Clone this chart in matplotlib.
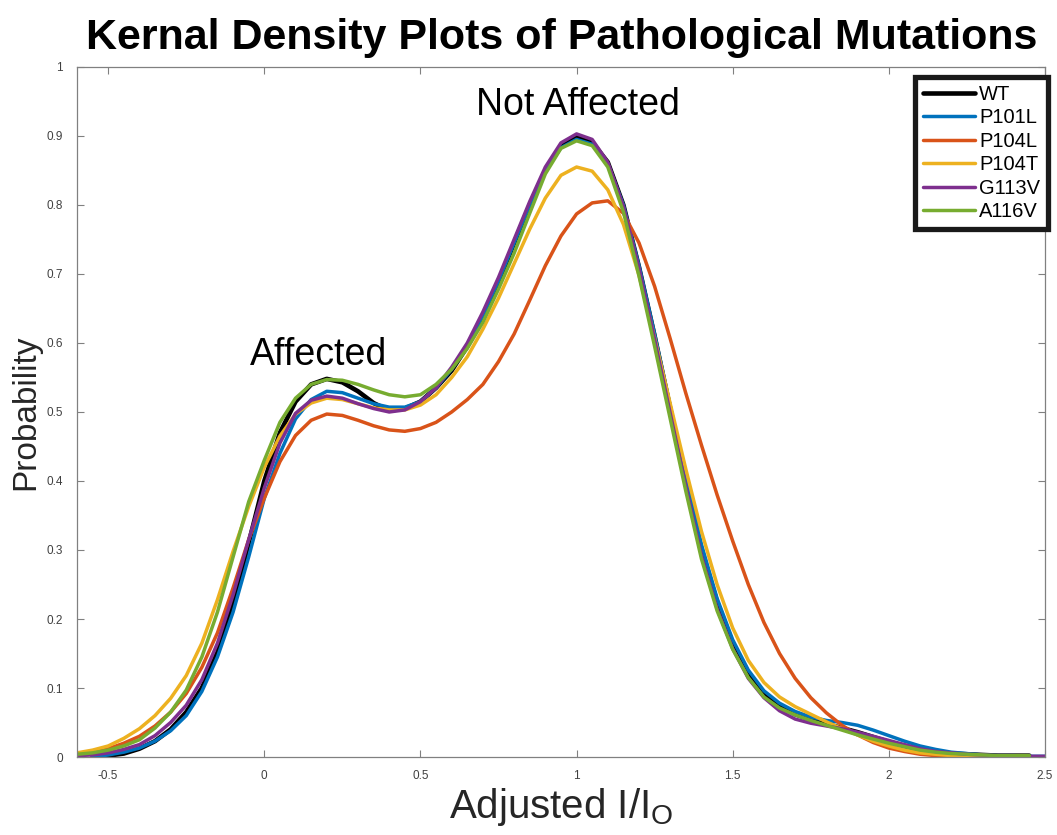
import numpy as np
import matplotlib
matplotlib.use("Agg")
import matplotlib.pyplot as plt

plt.rcParams['font.family'] = ['Liberation Sans', 'DejaVu Sans']
plt.rcParams['mathtext.fontset'] = 'custom'
plt.rcParams['mathtext.rm'] = 'Liberation Sans'

nan = np.nan

# sample positions (Adjusted I/Io), step 0.05 from -0.6 to 2.5
x_vals = [-0.6, -0.55, -0.5, -0.45, -0.4, -0.35, -0.3, -0.25, -0.2, -0.15,
          -0.1, -0.05, 0.0, 0.05, 0.1, 0.15, 0.2, 0.25, 0.3, 0.35,
          0.4, 0.45, 0.5, 0.55, 0.6, 0.65, 0.7, 0.75, 0.8, 0.85,
          0.9, 0.95, 1.0, 1.05, 1.1, 1.15, 1.2, 1.25, 1.3, 1.35,
          1.4, 1.45, 1.5, 1.55, 1.6, 1.65, 1.7, 1.75, 1.8, 1.85,
          1.9, 1.95, 2.0, 2.05, 2.1, 2.15, 2.2, 2.25, 2.3, 2.35,
          2.4, 2.45, 2.5]

wt = [nan, 0.0, 0.002, 0.005, 0.012, 0.023, 0.04, 0.065, 0.10, 0.152,
      0.222, 0.31, 0.40, 0.47, 0.515, 0.54, 0.548, 0.543, 0.53, 0.513,
      0.502, 0.505, 0.515, 0.535, 0.56, 0.595, 0.635, 0.688, 0.745, 0.80,
      0.85, 0.885, 0.898, 0.891, 0.862, 0.80, 0.71, 0.61, 0.505, 0.40,
      0.30, 0.225, 0.165, 0.122, 0.092, 0.074, 0.062, 0.054, 0.048, 0.042,
      0.036, 0.029, 0.022, 0.016, 0.011, 0.008, 0.005, 0.004, 0.003, 0.002,
      0.002, 0.002, nan]
p101l = [nan, 0.0, 0.003, 0.007, 0.013, 0.023, 0.038, 0.06, 0.095, 0.145,
         0.21, 0.29, 0.375, 0.44, 0.49, 0.518, 0.53, 0.528, 0.52, 0.512,
         0.507, 0.507, 0.515, 0.535, 0.562, 0.597, 0.64, 0.69, 0.745, 0.80,
         0.85, 0.883, 0.895, 0.888, 0.86, 0.80, 0.712, 0.613, 0.508, 0.405,
         0.308, 0.23, 0.17, 0.126, 0.096, 0.078, 0.066, 0.058, 0.053, 0.05,
         0.046, 0.039, 0.031, 0.023, 0.016, 0.011, 0.007, 0.005, 0.003, 0.002,
         0.002, 0.001, 0.001]
p104l = [0.005, 0.008, 0.012, 0.02, 0.03, 0.045, 0.065, 0.092, 0.13, 0.18,
         0.245, 0.315, 0.375, 0.428, 0.466, 0.488, 0.497, 0.495, 0.488, 0.48,
         0.474, 0.472, 0.476, 0.485, 0.50, 0.518, 0.54, 0.573, 0.613, 0.662,
         0.712, 0.755, 0.787, 0.803, 0.806, 0.788, 0.745, 0.682, 0.606, 0.527,
         0.452, 0.38, 0.313, 0.25, 0.195, 0.15, 0.114, 0.086, 0.064, 0.046,
         0.032, 0.021, 0.013, 0.008, 0.004, 0.002, 0.001, 0.0, 0.0, nan,
         nan, nan, nan]
p104t = [0.006, 0.01, 0.016, 0.027, 0.041, 0.06, 0.085, 0.118, 0.165, 0.228,
         0.298, 0.363, 0.42, 0.465, 0.497, 0.513, 0.52, 0.518, 0.512, 0.506,
         0.503, 0.503, 0.51, 0.525, 0.55, 0.58, 0.62, 0.665, 0.715, 0.765,
         0.81, 0.843, 0.855, 0.849, 0.822, 0.772, 0.698, 0.607, 0.512, 0.417,
         0.327, 0.25, 0.187, 0.14, 0.108, 0.087, 0.073, 0.062, 0.051, 0.041,
         0.032, 0.023, 0.016, 0.01, 0.006, 0.004, 0.002, 0.001, 0.001, 0.0,
         0.0, nan, nan]
g113v = [0.002, 0.003, 0.006, 0.011, 0.018, 0.031, 0.05, 0.075, 0.112, 0.165,
         0.235, 0.315, 0.39, 0.455, 0.498, 0.517, 0.523, 0.52, 0.512, 0.505,
         0.50, 0.503, 0.515, 0.535, 0.565, 0.60, 0.645, 0.695, 0.75, 0.805,
         0.855, 0.89, 0.903, 0.895, 0.862, 0.798, 0.708, 0.605, 0.498, 0.392,
         0.292, 0.215, 0.157, 0.114, 0.086, 0.067, 0.055, 0.049, 0.045, 0.041,
         0.036, 0.03, 0.024, 0.018, 0.012, 0.008, 0.006, 0.004, 0.003, 0.002,
         0.002, 0.001, 0.001]
a116v = [0.004, 0.006, 0.01, 0.016, 0.025, 0.042, 0.065, 0.097, 0.145, 0.21,
         0.29, 0.37, 0.43, 0.485, 0.52, 0.54, 0.547, 0.546, 0.54, 0.532,
         0.525, 0.522, 0.525, 0.54, 0.562, 0.592, 0.63, 0.678, 0.73, 0.788,
         0.845, 0.882, 0.893, 0.886, 0.855, 0.79, 0.697, 0.595, 0.49, 0.385,
         0.287, 0.212, 0.156, 0.115, 0.087, 0.071, 0.061, 0.053, 0.046, 0.039,
         0.032, 0.026, 0.02, 0.015, 0.01, 0.007, 0.005, 0.004, 0.003, 0.002,
         0.002, 0.002, nan]

series = [("WT", wt), ("P101L", p101l), ("P104L", p104l),
          ("P104T", p104t), ("G113V", g113v), ("A116V", a116v)]
colors = ["black", "#0072BD", "#D95319", "#EDB120", "#7E2F8E", "#77AC30"]
widths = [3.3, 2.5, 2.5, 2.5, 2.5, 2.5]

x_ticks = [-0.5, 0, 0.5, 1, 1.5, 2, 2.5]
x_tick_labels = ["-0.5", "0", "0.5", "1", "1.5", "2", "2.5"]
y_ticks = [0, 0.1, 0.2, 0.3, 0.4, 0.5, 0.6, 0.7, 0.8, 0.9, 1]
y_tick_labels = ["0", "0.1", "0.2", "0.3", "0.4", "0.5", "0.6", "0.7", "0.8", "0.9", "1"]

fig = plt.figure(figsize=(10.57, 8.35), dpi=100)
ax = fig.add_axes([0.0728, 0.0934, 0.9158, 0.8264])

for (name, vals), c, lw in zip(series, colors, widths):
    ax.plot(x_vals, vals, color=c, lw=lw, label=name,
            solid_capstyle='round', solid_joinstyle='round')

ax.set_xlim(-0.6, 2.5)
ax.set_ylim(0, 1)
ax.set_xticks(x_ticks)
ax.set_xticklabels(x_tick_labels)
ax.set_yticks(y_ticks)
ax.set_yticklabels(y_tick_labels)
ax.tick_params(direction='in', top=True, right=True, length=5, width=0.8,
               colors='#808080', labelcolor='#404040', labelsize=8.5)
ax.tick_params(axis='y', pad=10)
ax.tick_params(axis='x', pad=9)
for sp in ax.spines.values():
    sp.set_color('#808080')
    sp.set_linewidth(0.9)

ax.set_ylabel("Probability", fontsize=24, color='#262626', labelpad=4)
ax.set_xlabel(r"Adjusted I/I$_\mathregular{O}$", fontsize=29, color='#262626', labelpad=3)

ax.text(0.173, 0.583, "Affected", fontsize=27, ha='center', va='center')
ax.text(1.003, 0.945, "Not Affected", fontsize=27, ha='center', va='center')

fig.text(0.531, 0.955, "Kernal Density Plots of Pathological Mutations",
         fontsize=31, fontweight='bold', ha='center', va='center')

leg = ax.legend(loc='upper right', bbox_to_anchor=(1048 / 1057, 1 - 77 / 835),
                bbox_transform=fig.transFigure, fontsize=14.5,
                frameon=True, fancybox=False, handlelength=2.6, handletextpad=0.2,
                labelspacing=0.22, borderpad=0.4, borderaxespad=0)
leg.get_frame().set_edgecolor('#1a1a1a')
leg.get_frame().set_linewidth(3.8)
leg.get_frame().set_alpha(1)

fig.savefig("out.png", dpi=100)
